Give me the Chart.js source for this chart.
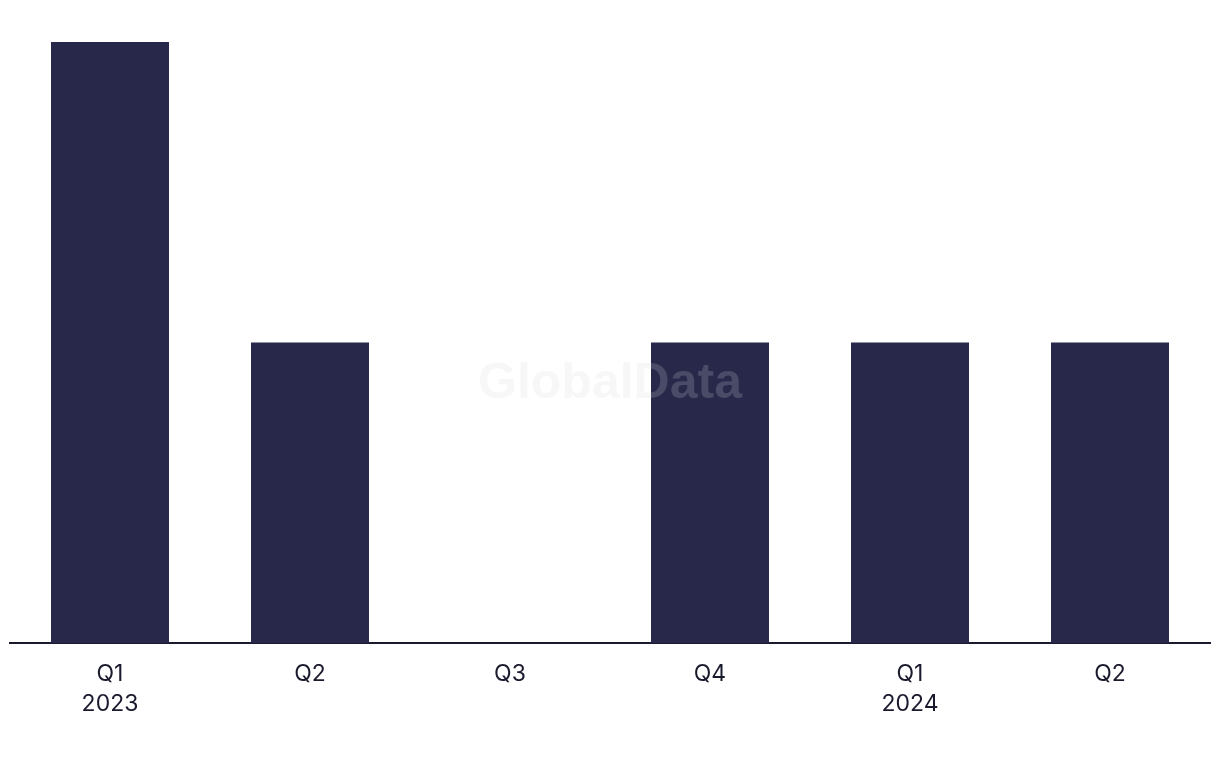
<!DOCTYPE html>
<html>
<head>
<meta charset="utf-8">
<script src="https://cdn.jsdelivr.net/npm/chart.js@4"></script>
<style>
  html, body { margin: 0; padding: 0; background: #fff; }
  #wrap { width: 1220px; height: 768px; }
</style>
</head>
<body>
<div id="wrap"><canvas id="chart"></canvas></div>
<script>
// quarters (two-line labels: quarter / year)
const quarters = [["Q1", "2023"], ["Q2"], ["Q3"], ["Q4"], ["Q1", "2024"], ["Q2"]];
const dealCounts = [2, 1, 0, 1, 1, 1];

// watermark drawn on top of the bars
const watermark = {
  id: "watermark",
  afterDatasetsDraw(chart) {
    const { ctx } = chart;
    ctx.save();
    ctx.font = "bold 50px 'Liberation Sans', Arial, sans-serif";
    ctx.fillStyle = "rgba(215,215,220,0.2)";
    ctx.textAlign = "center";
    ctx.textBaseline = "middle";
    ctx.fillText("GlobalData", 610, 384);
    ctx.restore();
  },
};

new Chart(document.getElementById("chart"), {
  type: "bar",
  data: {
    labels: quarters,
    datasets: [
      {
        data: dealCounts,
        backgroundColor: "#27284a",
        barPercentage: 1,
        categoryPercentage: 0.59,
      },
    ],
  },
  options: {
    responsive: true,
    maintainAspectRatio: false,
    animation: false,
    layout: { padding: { top: 42, left: 10, right: 10, bottom: 33 } },
    plugins: {
      legend: { display: false },
      tooltip: { enabled: false },
    },
    scales: {
      x: {
        grid: { display: false, drawTicks: false },
        border: { display: true, color: "#1a1a2e", width: 2 },
        ticks: {
          color: "#1a1a2e",
          padding: 16,
          font: { size: 23, family: "Inter, 'Liberation Sans', Arial, sans-serif", lineHeight: 1.3 },
          maxRotation: 0,
        },
      },
      y: {
        display: false,
        min: 0,
        max: 2,
      },
    },
  },
  plugins: [watermark],
});
</script>
</body>
</html>
